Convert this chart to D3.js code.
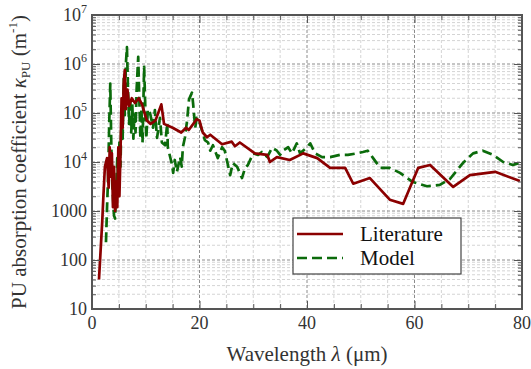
<!DOCTYPE html>
<html>
<head>
<meta charset="utf-8">
<script src="https://cdn.jsdelivr.net/npm/d3@7"></script>
<style>
  html, body { margin: 0; padding: 0; background: #fff; }
  svg { display: block; font-family: "Liberation Serif", "Times New Roman", serif; }
</style>
</head>
<body>
<svg id="chart" width="531" height="369"></svg>
<script>
// Absorption coefficient of polyurethane: literature values vs. model fit
const literatureWavelength = [1.3, 1.9, 2.1, 2.4, 2.8, 3.1, 3.3, 3.5, 3.7, 3.9, 4.1, 4.3, 4.5, 4.7, 4.9, 5.1, 5.3, 5.5, 5.7, 5.9,
  6.1, 6.3, 6.6, 6.9, 7.4, 8.0, 8.7, 9.3, 10.2, 10.9, 11.8, 12.9, 13.4, 15.0, 16.6, 17.5, 18.0, 19.5, 20.0, 20.6,
  21.4, 22.0, 24.2, 26.0, 26.6, 27.5, 30.3, 32.6, 33.1, 34.4, 36.8, 39.3, 41.9, 44.3, 47.1, 48.6, 51.7, 55.4, 57.9,
  60.7, 62.9, 67.2, 70.3, 75.0, 79.6];
const literatureKappa = [40, 600, 1800, 8000, 12000, 3000, 20000, 5000, 15000, 1200, 8000, 1000, 4000, 1200, 20000, 2000, 15000, 2e5, 5e4, 4e5,
  7.5e5, 1.2e5, 3e5, 1.4e5, 2e5, 1.6e5, 2e5, 1.5e5, 7e4, 6e4, 7e4, 1.5e5, 6e4, 5e4, 4e4, 5e4, 4.5e4, 7.5e4, 7e4, 4e4,
  3.2e4, 3.6e4, 2.3e4, 2.6e4, 2.1e4, 2.5e4, 1.5e4, 1.4e4, 1.0e4, 1.26e4, 1.1e4, 1.5e4, 1.2e4, 7600, 7600, 3600, 4700, 1700, 1400,
  7600, 8700, 3100, 5400, 6300, 4100];

const modelWavelength = [2.6, 2.8, 3.0, 3.2, 3.4, 3.6, 3.8, 4.1, 4.3, 4.5, 4.7, 4.9, 5.1, 5.3, 5.5, 5.7, 5.9, 6.1, 6.3, 6.5,
  6.7, 6.9, 7.1, 7.3, 7.5, 7.7, 7.9, 8.1, 8.3, 8.6, 8.8, 9.0, 9.2, 9.4, 9.7, 9.9, 10.1, 10.4, 10.8, 11.35,
  11.7, 12.1, 12.65, 13.0, 13.6, 14.0, 14.1, 14.9, 15.1, 15.4, 15.8, 16.4, 16.7, 16.9, 17.3, 17.7, 18.05, 18.6, 18.8, 19.2,
  19.5, 20.1, 21.0, 21.6, 22.0, 22.5, 23.4, 24.2, 24.7, 25.7, 26.2, 27.0, 27.9, 28.5, 29.0, 30.0, 30.9, 31.6, 32.6, 33.5,
  34.4, 35.0, 35.5, 36.5, 37.2, 38.1, 38.7, 40.0, 40.6, 41.5, 42.8, 44.3, 46.1, 47.6, 49.3, 50.4, 51.3, 52.3, 53.6, 55.4,
  57.3, 59.7, 62.3, 64.7, 66.6, 69.0, 70.9, 72.7, 74.6, 76.5, 78.3, 80.0];
const modelKappa = [230, 1200, 5000, 6e4, 4e5, 2e4, 3000, 800, 700, 3000, 12000, 3000, 2.5e4, 8000, 1.2e5, 3e4, 5e5, 9e4, 1e6, 2.2e6,
  3e5, 6e4, 2e5, 4e4, 1.5e5, 3e4, 1e5, 4e4, 3e5, 1.4e6, 2e5, 3e4, 1.2e5, 2.5e4, 8.7e5, 1.5e5, 3e4, 1.2e5, 1e5, 5e4,
  1.15e5, 3.1e4, 8e4, 2.5e4, 2.2e4, 6.3e4, 2e4, 8700, 6000, 11000, 6300, 12600, 8000, 2e4, 3.2e4, 7.2e4, 1.9e5, 2.6e5, 1.6e5, 5e4,
  8e4, 6e4, 2.8e4, 2.5e4, 1.7e4, 2.2e4, 1.2e4, 2e4, 1.7e4, 5400, 9500, 8000, 4700, 7600, 8700, 1.5e4, 1.4e4, 1.6e4, 1.26e4, 1.95e4,
  1.7e4, 1.4e4, 1.7e4, 2e4, 1.5e4, 2.4e4, 1.5e4, 2e4, 2.4e4, 1.5e4, 1.26e4, 1.26e4, 1.4e4, 1.4e4, 1.5e4, 1.6e4, 1.7e4, 1.2e4, 7600, 7600,
  6000, 3900, 3200, 3400, 4500, 9500, 1.5e4, 1.7e4, 1.4e4, 1e4, 8700, 1e4];

const xTicks = [0, 20, 40, 60, 80];
const xMinorTicks = d3.range(0, 81, 5);
const yTicks = [10, 100, 1000, 1e4, 1e5, 1e6, 1e7];
const yTickLabels = [["10", ""], ["100", ""], ["1000", ""], ["10", "4"], ["10", "5"], ["10", "6"], ["10", "7"]];
const seriesNames = ["Literature", "Model"];
const seriesColors = ["#8b0000", "#0b6b0b"];

const margin = { top: 15, right: 9, bottom: 60, left: 92 };
const width = 531 - margin.left - margin.right;
const height = 369 - margin.top - margin.bottom;

const svg = d3.select("#chart");
const g = svg.append("g").attr("transform", `translate(${margin.left},${margin.top})`);

const x = d3.scaleLinear().domain([0, 80]).range([0, width]);
const y = d3.scaleLog().domain([10, 1e7]).range([height, 0]);

// minor log positions 2..9 inside each decade
const yMinor = [];
for (let e = 1; e < 7; e++) for (let m = 2; m <= 9; m++) yMinor.push(m * Math.pow(10, e));

// grid
const grid = g.append("g");
grid.selectAll(".vminor").data(xMinorTicks.filter(v => v % 20 !== 0)).join("line")
  .attr("x1", d => x(d)).attr("x2", d => x(d)).attr("y1", 0).attr("y2", height)
  .attr("stroke", "#d4d4d4").attr("stroke-width", 1).attr("stroke-dasharray", "3,2");
grid.selectAll(".hminor").data(yMinor).join("line")
  .attr("x1", 0).attr("x2", width).attr("y1", d => y(d)).attr("y2", d => y(d))
  .attr("stroke", "#d4d4d4").attr("stroke-width", 1).attr("stroke-dasharray", "3,2");
grid.selectAll(".vmajor").data(xTicks.slice(1, -1)).join("line")
  .attr("x1", d => x(d)).attr("x2", d => x(d)).attr("y1", 0).attr("y2", height)
  .attr("stroke", "#8c8c8c").attr("stroke-width", 1).attr("stroke-dasharray", "3,2");
grid.selectAll(".hmajor").data(yTicks.slice(1, -1)).join("line")
  .attr("x1", 0).attr("x2", width).attr("y1", d => y(d)).attr("y2", d => y(d))
  .attr("stroke", "#8c8c8c").attr("stroke-width", 1).attr("stroke-dasharray", "3,2");

// series
const line = d3.line().x(d => x(d[0])).y(d => y(d[1]));
const modelData = d3.zip(modelWavelength, modelKappa);
const litData = d3.zip(literatureWavelength, literatureKappa);

g.append("path").datum(modelData)
  .attr("d", line).attr("fill", "none")
  .attr("stroke", seriesColors[1]).attr("stroke-width", 2.7)
  .attr("stroke-dasharray", "10,5").attr("stroke-linejoin", "round");
g.append("path").datum(litData)
  .attr("d", line).attr("fill", "none")
  .attr("stroke", seriesColors[0]).attr("stroke-width", 2.7)
  .attr("stroke-linejoin", "round");

// axes with inward ticks
const axisColor = "#555";
function styleAxis(sel) {
  sel.select(".domain").remove();
  sel.selectAll(".tick line").attr("stroke", axisColor).attr("stroke-width", 1);
}
const xb = g.append("g").attr("transform", `translate(0,${height})`)
  .call(d3.axisBottom(x).tickValues(xMinorTicks).tickSize(-5).tickFormat(""));
styleAxis(xb);
xb.selectAll(".tick line").attr("y2", d => d % 20 === 0 ? -8 : -5);
const xt = g.append("g")
  .call(d3.axisTop(x).tickValues(xMinorTicks).tickSize(-5).tickFormat(""));
styleAxis(xt);
xt.selectAll(".tick line").attr("y2", d => d % 20 === 0 ? 8 : 5);

const yl = g.append("g").call(d3.axisLeft(y).tickValues(yMinor).tickSize(-4).tickFormat(""));
styleAxis(yl);
const yl2 = g.append("g").call(d3.axisLeft(y).tickValues(yTicks).tickSize(-8).tickFormat(""));
styleAxis(yl2);
const yr = g.append("g").attr("transform", `translate(${width},0)`)
  .call(d3.axisRight(y).tickValues(yMinor).tickSize(-4).tickFormat(""));
styleAxis(yr);
const yr2 = g.append("g").attr("transform", `translate(${width},0)`)
  .call(d3.axisRight(y).tickValues(yTicks).tickSize(-8).tickFormat(""));
styleAxis(yr2);

g.append("rect").attr("x", 0).attr("y", 0).attr("width", width).attr("height", height)
  .attr("fill", "none").attr("stroke", axisColor).attr("stroke-width", 2);

// tick labels
const textColor = "#333";
g.append("g").selectAll("text").data(xTicks).join("text")
  .attr("x", d => x(d)).attr("y", height + 20)
  .attr("text-anchor", "middle").attr("font-size", 18).attr("fill", textColor)
  .text(d => d);

const yLab = g.append("g").selectAll("text").data(yTicks).join("text")
  .attr("x", -5).attr("y", d => y(d) + 6)
  .attr("text-anchor", "end").attr("font-size", 18).attr("fill", textColor);
yLab.append("tspan").text((d, i) => yTickLabels[i][0]);
yLab.append("tspan").attr("font-size", 12).attr("dy", -8).text((d, i) => yTickLabels[i][1]);

// axis titles
const xTitle = svg.append("text")
  .attr("x", margin.left + width / 2).attr("y", 361)
  .attr("text-anchor", "middle").attr("font-size", 21).attr("fill", textColor);
xTitle.append("tspan").text("Wavelength ");
xTitle.append("tspan").attr("font-style", "italic").text("λ");
xTitle.append("tspan").text(" (μm)");

const yTitle = svg.append("text")
  .attr("transform", `translate(26,${margin.top + height / 2}) rotate(-90)`)
  .attr("text-anchor", "middle").attr("font-size", 21).attr("fill", textColor);
yTitle.append("tspan").text("PU absorption coefficient ");
yTitle.append("tspan").attr("font-style", "italic").text("κ");
yTitle.append("tspan").attr("font-size", 13).attr("dy", 4).text("PU");
yTitle.append("tspan").attr("dy", -4).text(" (m");
yTitle.append("tspan").attr("font-size", 13).attr("dy", -9).text("-1");
yTitle.append("tspan").attr("dy", 9).text(")");

// legend
const legend = svg.append("g").attr("transform", "translate(293,218)");
legend.append("rect").attr("width", 168).attr("height", 56)
  .attr("fill", "#fff").attr("stroke", "#444").attr("stroke-width", 1.2);
seriesNames.forEach((name, i) => {
  const ly = 16 + i * 24;
  legend.append("line").attr("x1", 4).attr("x2", 50).attr("y1", ly).attr("y2", ly)
    .attr("stroke", seriesColors[i]).attr("stroke-width", 2.7)
    .attr("stroke-dasharray", i === 1 ? "10,5" : null);
  legend.append("text").attr("x", 67).attr("y", ly + 7)
    .attr("font-size", 21).attr("fill", "#111").text(name);
});
</script>
</body>
</html>
